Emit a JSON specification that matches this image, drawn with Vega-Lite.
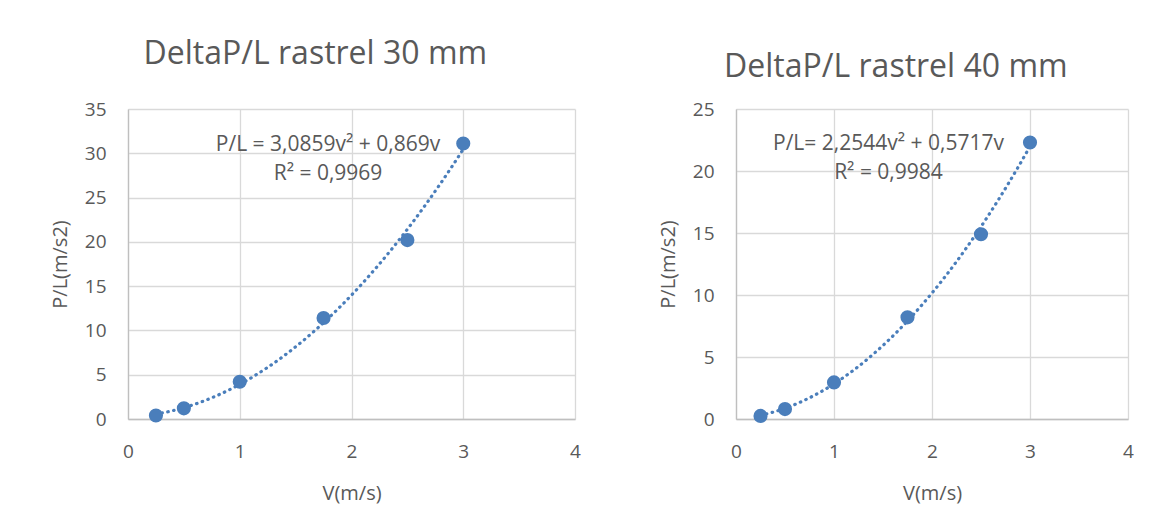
{
  "$schema": "https://vega.github.io/schema/vega-lite/v6.json",
  "background": "white",
  "padding": {"left": 50, "top": 38, "right": 0, "bottom": 20},
  "config": {
    "font": "Open Sans",
    "view": {"stroke": null},
    "axis": {
      "grid": true,
      "gridColor": "#d9d9d9",
      "gridWidth": 1.3,
      "domainColor": "#bfbfbf",
      "domainWidth": 1.3,
      "ticks": false,
      "labelColor": "#595959",
      "labelFontSize": 19,
      "labelFont": "Open Sans",
      "labelFlush": false,
      "labelOverlap": false,
      "format": "d",
      "titleColor": "#595959",
      "titleFontSize": 20,
      "titleFont": "Open Sans",
      "titleFontWeight": "normal"
    },
    "axisX": {"labelPadding": 23, "titlePadding": 22},
    "axisY": {"labelPadding": 22, "titlePadding": 14},
    "title": {"color": "#595959", "fontSize": 32, "fontWeight": "normal", "font": "Open Sans", "frame": "bounds", "anchor": "middle"},
    "concat": {"spacing": 77}
  },
  "hconcat": [
    {
      "width": 447,
      "height": 310,
      "title": {"text": "DeltaP/L rastrel 30 mm", "offset": 29},
      "data": {"values": [
        {"V": 0.25, "P": 0.4},
        {"V": 0.5, "P": 1.2},
        {"V": 1, "P": 4.2},
        {"V": 1.75, "P": 11.4},
        {"V": 2.5, "P": 20.2},
        {"V": 3, "P": 31.1}
      ]},
      "layer": [
        {
          "transform": [{"regression": "P", "on": "V", "method": "poly", "order": 2, "extent": [0.25, 3]}],
          "mark": {"type": "line", "strokeDash": [0.5, 5.5], "strokeCap": "round", "strokeWidth": 3.2, "color": "#4a7ebb", "interpolate": "monotone"},
          "encoding": {
            "x": {"field": "V", "type": "quantitative", "scale": {"domain": [0, 4], "nice": false}, "axis": {"values": [0, 1, 2, 3, 4]}, "title": "V(m/s)"},
            "y": {"field": "P", "type": "quantitative", "scale": {"domain": [0, 35], "nice": false}, "axis": {"values": [0, 5, 10, 15, 20, 25, 30, 35]}, "title": "P/L(m/s2)"}
          }
        },
        {
          "mark": {"type": "circle", "size": 200, "opacity": 1, "color": "#4a7ebb"},
          "encoding": {
            "x": {"field": "V", "type": "quantitative"},
            "y": {"field": "P", "type": "quantitative"}
          }
        },
        {
          "data": {"values": [
            {"V": 1.79, "P": 30.9, "label": "P/L = 3,0859v² + 0,869v"},
            {"V": 1.79, "P": 27.7, "label": "R² = 0,9969"}
          ]},
          "mark": {"type": "text", "fontSize": 21, "color": "#595959", "font": "Open Sans", "align": "center", "baseline": "middle"},
          "encoding": {
            "x": {"field": "V", "type": "quantitative"},
            "y": {"field": "P", "type": "quantitative"},
            "text": {"field": "label"}
          }
        }
      ]
    },
    {
      "width": 392,
      "height": 310,
      "title": {"text": "DeltaP/L rastrel 40 mm", "offset": 16},
      "data": {"values": [
        {"V": 0.25, "P": 0.25},
        {"V": 0.5, "P": 0.8},
        {"V": 1, "P": 2.95},
        {"V": 1.75, "P": 8.2},
        {"V": 2.5, "P": 14.9},
        {"V": 3, "P": 22.3}
      ]},
      "layer": [
        {
          "transform": [{"regression": "P", "on": "V", "method": "poly", "order": 2, "extent": [0.25, 3]}],
          "mark": {"type": "line", "strokeDash": [0.5, 5.5], "strokeCap": "round", "strokeWidth": 3.2, "color": "#4a7ebb", "interpolate": "monotone"},
          "encoding": {
            "x": {"field": "V", "type": "quantitative", "scale": {"domain": [0, 4], "nice": false}, "axis": {"values": [0, 1, 2, 3, 4]}, "title": "V(m/s)"},
            "y": {"field": "P", "type": "quantitative", "scale": {"domain": [0, 25], "nice": false}, "axis": {"values": [0, 5, 10, 15, 20, 25]}, "title": "P/L(m/s2)"}
          }
        },
        {
          "mark": {"type": "circle", "size": 200, "opacity": 1, "color": "#4a7ebb"},
          "encoding": {
            "x": {"field": "V", "type": "quantitative"},
            "y": {"field": "P", "type": "quantitative"}
          }
        },
        {
          "data": {"values": [
            {"V": 1.556, "P": 22.2, "label": "P/L= 2,2544v² + 0,5717v"},
            {"V": 1.556, "P": 19.8, "label": "R² = 0,9984"}
          ]},
          "mark": {"type": "text", "fontSize": 21, "color": "#595959", "font": "Open Sans", "align": "center", "baseline": "middle"},
          "encoding": {
            "x": {"field": "V", "type": "quantitative"},
            "y": {"field": "P", "type": "quantitative"},
            "text": {"field": "label"}
          }
        }
      ]
    }
  ]
}
